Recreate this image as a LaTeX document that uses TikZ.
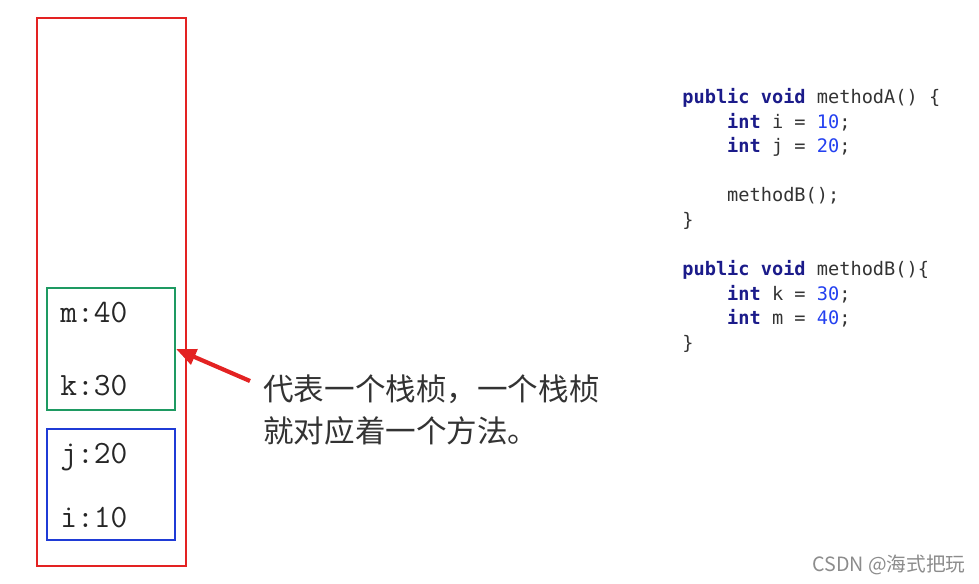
\documentclass[tikz,border=0pt]{standalone}
\usepackage{fontspec}
\newfontfamily\cjk{Noto Sans CJK SC}
\newfontfamily\codefont{DejaVu Sans Mono}
\usetikzlibrary{arrows.meta, positioning}
\definecolor{stackred}{HTML}{E32222}
\definecolor{frameA}{HTML}{1F3BD6}
\definecolor{frameB}{HTML}{1E9A62}
\definecolor{kwblue}{HTML}{1B1B8A}
\definecolor{numblue}{HTML}{2340F0}
\definecolor{codegray}{HTML}{333333}
\newcommand{\kw}[1]{\textcolor{kwblue}{\bfseries #1}}
\newcommand{\num}[1]{\textcolor{numblue}{#1}}
\newcommand{\ind}{\phantom{0000}}

\begin{document}
\begin{tikzpicture}[x=0.02cm, y=-0.02cm,
    frame/.style={draw, line width=1.2pt, inner sep=0pt},
    var/.style={font=\ttfamily\fontsize{18.5}{20}\selectfont, text=black!85, inner sep=0pt, anchor=base west},
    arrow/.style={-{Triangle[length=4mm, width=3.2mm]}, line width=2.4pt, draw=stackred}]
  \useasboundingbox (0,0) rectangle (979,584);
  % stack and its frames
  \node[frame, draw=stackred, minimum width=149*0.02cm, minimum height=548*0.02cm] (stack) at (111.5,292) {};
  \node[frame, draw=frameB, minimum width=128*0.02cm, minimum height=122*0.02cm] (methodB) at (111,349) {};
  \node[frame, draw=frameA, minimum width=128*0.02cm, minimum height=111*0.02cm] (methodA) at (111,484.5) {};
  \node[var] (m) at (60,322) {m:40};
  \node[var] (k) at (60,395) {k:30};
  \node[var] (j) at (60,463) {j:20};
  \node[var] (i) at (60,527) {i:10};
  % note
  \node[anchor=north west, inner sep=0pt, align=left, text=black!80,
    font=\cjk\fontsize{17.4}{24}\selectfont] (note) at (263,374)
    {代表一个栈桢，一个栈桢\\就对应着一个方法。};
  \coordinate (tail) at (250,381);
  \draw[arrow] (tail) -- (methodB.east);
  % code
  \node[anchor=north west, inner sep=0pt, align=left, text=codegray,
    font=\codefont\fontsize{10.6}{14}\selectfont] (code) at (682,88)
    {\kw{public} \kw{void} methodA() \{\\
     \ind\kw{int} i = \num{10};\\
     \ind\kw{int} j = \num{20};\\
     \strut\\
     \ind methodB();\\
     \}\\
     \strut\\
     \kw{public} \kw{void} methodB()\{\\
     \ind\kw{int} k = \num{30};\\
     \ind\kw{int} m = \num{40};\\
     \}};
  \node[anchor=west, inner sep=0pt, text=black!45,
    font=\cjk\fontsize{11.2}{14}\selectfont] (mark) at (812,565) {CSDN @海式把玩};
\end{tikzpicture}
\end{document}
